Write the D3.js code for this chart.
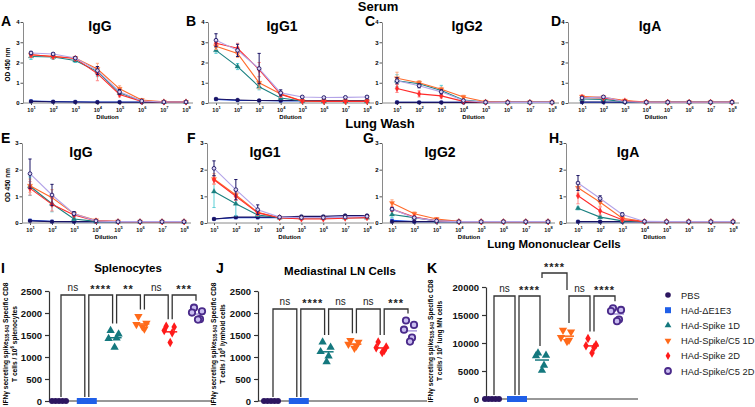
<!DOCTYPE html>
<html><head><meta charset="utf-8">
<script src="https://cdn.jsdelivr.net/npm/d3@7"></script>
<style>body{margin:0;background:#fff} svg{display:block} text{font-family:"Liberation Sans",Arial,sans-serif}</style>
</head><body><svg id="c" width="755" height="407"></svg>
<script>
// ---------- DATA ----------
const groups = ["PBS","HAd-ΔE1E3","HAd-Spike 1D","HAd-Spike/C5 1D","HAd-Spike 2D","HAd-Spike/C5 2D"];
const dilutionExp = [1,2,3,4,5,6,7,8];

// Serum (rows = groups in order above, columns = 10^1 .. 10^8)
const serumIgG = [
 [0.08,0.06,0.05,0.04,0.04,0.04,0.04,0.04],
 [0.10,0.07,0.06,0.05,0.05,0.05,0.05,0.05],
 [2.30,2.27,2.10,1.55,0.50,0.10,0.05,0.05],
 [2.38,2.30,2.22,1.68,0.70,0.15,0.06,0.05],
 [2.38,2.30,2.20,1.45,0.42,0.08,0.05,0.05],
 [2.47,2.42,2.22,1.60,0.55,0.10,0.05,0.05]];
const serumIgG_err = [
 [0.02,0.01,0,0,0,0,0,0],[0.02,0.01,0,0,0,0,0,0],
 [0.15,0.12,0.10,0.25,0.10,0.03,0,0],
 [0.12,0.10,0.08,0.28,0.15,0.05,0,0],
 [0.10,0.10,0.08,0.35,0.12,0.03,0,0],
 [0.08,0.06,0.06,0.20,0.12,0.03,0,0]];
const serumIgG1 = [
 [0.20,0.15,0.12,0.12,0.12,0.12,0.12,0.12],
 [0.18,0.13,0.12,0.10,0.10,0.10,0.10,0.10],
 [2.60,1.80,0.80,0.25,0.10,0.08,0.08,0.08],
 [2.80,2.45,1.00,0.45,0.10,0.08,0.08,0.08],
 [2.95,2.70,1.65,0.42,0.10,0.08,0.08,0.08],
 [3.10,2.60,1.70,0.50,0.30,0.27,0.28,0.30]];
const serumIgG1_err = [
 [0.03,0.02,0,0,0,0,0,0],[0.02,0.02,0,0,0,0,0,0],
 [0.15,0.15,0.15,0.05,0.02,0,0,0],
 [0.15,0.20,0.30,0.10,0.02,0,0,0],
 [0.15,0.25,0.35,0.15,0.02,0,0,0],
 [0.32,0.30,0.75,0.15,0.05,0.03,0.03,0.05]];
const serumIgG2 = [
 [0.03,0.03,0.03,0.03,0.03,0.03,0.03,0.03],
 [0.04,0.03,0.03,0.03,0.03,0.03,0.03,0.03],
 [1.10,0.95,0.62,0.15,0.05,0.03,0.03,0.03],
 [1.22,1.00,0.68,0.30,0.06,0.03,0.03,0.03],
 [0.72,0.45,0.35,0.08,0.04,0.03,0.03,0.03],
 [1.10,0.85,0.55,0.12,0.04,0.03,0.03,0.03]];
const serumIgG2_err = [
 [0,0,0,0,0,0,0,0],[0,0,0,0,0,0,0,0],
 [0.30,0.12,0.25,0.05,0,0,0,0],
 [0.30,0.10,0.10,0.08,0,0,0,0],
 [0.20,0.15,0.10,0.03,0,0,0,0],
 [0.15,0.10,0.10,0.05,0,0,0,0]];
const serumIgA = [
 [0.05,0.05,0.04,0.04,0.04,0.04,0.04,0.04],
 [0.04,0.04,0.04,0.04,0.04,0.04,0.04,0.04],
 [0.20,0.18,0.06,0.04,0.04,0.04,0.04,0.04],
 [0.32,0.28,0.12,0.05,0.04,0.04,0.04,0.04],
 [0.28,0.25,0.10,0.04,0.04,0.04,0.04,0.04],
 [0.25,0.30,0.06,0.04,0.04,0.04,0.04,0.04]];
const serumIgA_err = [
 [0,0,0,0,0,0,0,0],[0,0,0,0,0,0,0,0],
 [0.05,0.04,0.02,0,0,0,0,0],
 [0.06,0.05,0.03,0,0,0,0,0],
 [0.05,0.05,0.03,0,0,0,0,0],
 [0.05,0.05,0.02,0,0,0,0,0]];

// Lung wash
const lungIgG = [
 [0.08,0.05,0.05,0.05,0.05,0.05,0.05,0.05],
 [0.10,0.06,0.05,0.05,0.05,0.05,0.05,0.05],
 [1.38,0.72,0.15,0.06,0.05,0.05,0.05,0.05],
 [1.40,0.95,0.35,0.10,0.06,0.05,0.05,0.05],
 [1.30,0.70,0.30,0.08,0.05,0.05,0.05,0.05],
 [1.85,1.05,0.35,0.08,0.05,0.05,0.05,0.05]];
const lungIgG_err = [
 [0.01,0,0,0,0,0,0,0],[0.02,0,0,0,0,0,0,0],
 [0.35,0.30,0.05,0,0,0,0,0],
 [0.25,0.30,0.08,0,0,0,0,0],
 [0.25,0.25,0.05,0,0,0,0,0],
 [0.55,0.40,0.08,0,0,0,0,0]];
const lungIgG1 = [
 [0.15,0.22,0.22,0.22,0.25,0.25,0.28,0.28],
 [0.15,0.20,0.20,0.20,0.20,0.20,0.22,0.22],
 [1.18,0.72,0.30,0.20,0.18,0.18,0.20,0.20],
 [1.65,1.05,0.40,0.20,0.18,0.18,0.20,0.22],
 [1.62,1.00,0.38,0.20,0.15,0.15,0.18,0.20],
 [2.05,1.25,0.50,0.22,0.20,0.20,0.22,0.25]];
const lungIgG1_err = [
 [0.02,0.02,0.02,0.02,0.02,0.02,0.02,0.02],[0,0,0,0,0,0,0,0],
 [0.60,0.45,0.05,0,0,0,0,0],
 [0.20,0.20,0.10,0,0,0,0,0],
 [0.15,0.15,0.08,0,0,0,0,0],
 [0.28,0.38,0.18,0.02,0,0,0,0]];
const lungIgG2 = [
 [0.05,0.05,0.05,0.05,0.05,0.05,0.05,0.05],
 [0.10,0.05,0.05,0.05,0.05,0.05,0.05,0.05],
 [0.32,0.20,0.08,0.05,0.05,0.05,0.05,0.05],
 [0.75,0.35,0.15,0.06,0.05,0.05,0.05,0.05],
 [0.52,0.22,0.08,0.05,0.05,0.05,0.05,0.05],
 [0.52,0.20,0.08,0.05,0.05,0.05,0.05,0.05]];
const lungIgG2_err = [
 [0,0,0,0,0,0,0,0],[0.02,0,0,0,0,0,0,0],
 [0.12,0.05,0.02,0,0,0,0,0],
 [0.12,0.06,0.05,0,0,0,0,0],
 [0.08,0.04,0.02,0,0,0,0,0],
 [0.06,0.04,0.02,0,0,0,0,0]];
const lungIgA = [
 [0.05,0.05,0.05,0.05,0.05,0.05,0.05,0.05],
 [0.05,0.05,0.05,0.05,0.05,0.05,0.05,0.05],
 [0.55,0.22,0.08,0.05,0.05,0.05,0.05,0.05],
 [1.32,0.78,0.18,0.06,0.05,0.05,0.05,0.05],
 [1.02,0.45,0.12,0.05,0.05,0.05,0.05,0.05],
 [1.50,0.92,0.32,0.06,0.05,0.05,0.05,0.05]];
const lungIgA_err = [
 [0,0,0,0,0,0,0,0],[0,0,0,0,0,0,0,0],
 [0.05,0.05,0.02,0,0,0,0,0],
 [0.20,0.15,0.05,0,0,0,0,0],
 [0.30,0.15,0.05,0,0,0,0,0],
 [0.28,0.10,0.06,0,0,0,0,0]];

// IFN-gamma ELISpot (5 mice per group)
const splenocytes = [
 [0,0,0,0,0],[0,0,0,0,0],
 [1600,1520,1420,1430,1220],
 [1920,1770,1740,1640,1690],
 [1700,1680,1600,1550,1330],
 [2120,2040,2010,1860,1850]];
const mediastinalLN = [
 [0,0,0,0,0],[0,0,0,0,0],
 [1340,1220,1120,1020,890],
 [1380,1340,1290,1250,1200],
 [1340,1230,1210,1150,1100],
 [1830,1730,1620,1440,1350]];
const lungMN = [
 [0,0,0,0,0],[0,0,0,0,0],
 [8200,7800,7700,6000,5100],
 [12300,12000,11000,10500,10300],
 [10800,9700,9500,9200,8200],
 [16200,15900,15700,14200,13900]];
const sigI = ["ns","****","**","ns","***"];
const sigJ = ["ns","****","ns","ns","***"];
const sigK = ["ns","****","****","ns","****"];
const ticksIJ = [0,500,1000,1500,2000,2500];
const ticksK = [0,5000,10000,15000,20000];

// ---------- STYLE ----------
const lineCol = ["#1b1464","#1f4fe0","#1a8080","#ff6a2a","#ff2a2a","#b3a3e8"];
const errCol  = ["#1b1464","#1f4fe0","#5ccfd6","#ffa880","#ff8a8a","#1b1464"];
const mkFill  = ["#1b1464","#1f4fe0","#1a8080","#ff6a2a","#ff2a2a","#ddd5f5"];
const mkStroke= ["#1b1464","#1f4fe0","#1a8080","#ff6a2a","#ff2a2a","#1b1464"];
const scCol   = ["#2c1660","#1f5fe8","#14787e","#ff6a1a","#ff1a1a","#4a2a8a"];
const scMean  = ["#2c1660","#1f5fe8","#14787e","#ff6a1a","#ff1a1a","#a898dc"];

const svg = d3.select("#c");
const FB = "'Liberation Sans',Arial,sans-serif";
const FT = "Lato,'Open Sans',sans-serif";

function symbolPath(i, size){
  const t = [d3.symbolCircle,d3.symbolSquare,d3.symbolTriangle,d3.symbolTriangle,d3.symbolDiamond,d3.symbolCircle][i];
  return d3.symbol().type(t).size(size)();
}
function drawSym(g, i, cx, cy, size, fill, stroke, sw){
  g.append("path").attr("d", symbolPath(i,size))
   .attr("transform", `translate(${cx},${cy})` + (i===3?" rotate(180)":""))
   .attr("fill", fill).attr("stroke", stroke).attr("stroke-width", sw);
}

// ---------- LINE PANELS ----------
const linePanels = [
 {L:"A",t:"IgG", d:serumIgG, e:serumIgG_err, ax:23, x0:31, x1:186, yT:22, yB:103, ym:4, lx:1, ly:26, tx:100, ty:31, od:true},
 {L:"B",t:"IgG1",d:serumIgG1,e:serumIgG1_err,ax:208,x0:216,x1:367, yT:22, yB:103, ym:4, lx:186,ly:26, tx:282, ty:31},
 {L:"C",t:"IgG2",d:serumIgG2,e:serumIgG2_err,ax:382,x0:397,x1:552, yT:22, yB:103, ym:4, lx:365,ly:26, tx:467, ty:31},
 {L:"D",t:"IgA", d:serumIgA, e:serumIgA_err, ax:568,x0:582,x1:732, yT:22, yB:103, ym:4, lx:551,ly:26, tx:650, ty:31},
 {L:"E",t:"IgG", d:lungIgG,  e:lungIgG_err,  ax:22, x0:30, x1:184, yT:143,yB:223, ym:3, lx:1, ly:143, tx:81, ty:157, od:true},
 {L:"F",t:"IgG1",d:lungIgG1, e:lungIgG1_err, ax:207,x0:214,x1:367, yT:143,yB:223, ym:3, lx:187,ly:143, tx:265, ty:157},
 {L:"G",t:"IgG2",d:lungIgG2, e:lungIgG2_err, ax:382,x0:392,x1:548, yT:143,yB:223, ym:3, lx:363,ly:143, tx:440, ty:157},
 {L:"H",t:"IgA", d:lungIgA,  e:lungIgA_err,  ax:566,x0:578,x1:733, yT:143,yB:223, ym:3, lx:549,ly:143, tx:628, ty:157},
];

linePanels.forEach(p=>{
  const g = svg.append("g");
  const x = d3.scaleLog().domain([10,1e8]).range([p.x0,p.x1]);
  const y = d3.scaleLinear().domain([0,p.ym]).range([p.yB,p.yT]);
  // y axis
  const ya = g.append("g").attr("transform",`translate(${p.ax},0)`)
    .call(d3.axisLeft(y).ticks(p.ym).tickFormat(d3.format("d")).tickSize(2.5).tickSizeOuter(0));
  ya.select(".domain").attr("stroke","#8a8a8a");
  ya.selectAll(".tick line").attr("stroke","#555");
  ya.selectAll(".tick text").attr("font-size",6).attr("font-weight","bold").attr("font-family",FB).attr("x",-3.5);
  // x axis
  const xa = g.append("g").attr("transform",`translate(0,${p.yB})`)
    .call(d3.axisBottom(x).tickValues(dilutionExp.map(e=>Math.pow(10,e))).tickFormat("").tickSize(2).tickSizeOuter(0));
  xa.select(".domain").remove();
  xa.selectAll(".tick line").attr("stroke","#555");
  g.append("line").attr("x1",p.ax).attr("x2",p.x1+7).attr("y1",p.yB).attr("y2",p.yB).attr("stroke","#8a8a8a");
  xa.selectAll(".tick").each(function(d,i){
    const t = d3.select(this).append("text").attr("y",8.5).attr("text-anchor","middle")
      .attr("font-size",5.5).attr("font-weight","bold").attr("fill","#111").attr("font-family",FB);
    t.append("tspan").text("10");
    t.append("tspan").attr("dy",-2.5).attr("font-size",4).text(dilutionExp[i]);
  });
  g.append("text").attr("x",(p.x0+p.x1)/2-1).attr("y",p.yB+16).attr("text-anchor","middle")
    .attr("font-size",6).attr("font-weight","bold").attr("font-family",FB).text("Dilution");
  if(p.od){
    g.append("text").attr("transform",`translate(10,${(p.yT+p.yB)/2+2}) rotate(-90)`).attr("text-anchor","middle")
     .attr("font-size",6.5).attr("font-weight","bold").attr("font-family",FB).text("OD 450 nm");
  }
  // letters / titles
  g.append("text").attr("x",p.lx).attr("y",p.ly).attr("font-size",14).attr("font-weight","bold").attr("font-family",FB).text(p.L);
  g.append("text").attr("x",p.tx).attr("y",p.ty).attr("text-anchor","middle").attr("font-size",14).attr("font-weight","bold").attr("font-family",FT).text(p.t);
  // series
  const line = d3.line().x((v,i)=>x(Math.pow(10,dilutionExp[i]))).y(v=>y(v));
  [1,0,2,3,4,5].forEach(s=>{
    const vals = p.d[s], errs = p.e[s];
    g.append("path").attr("d",line(vals)).attr("fill","none").attr("stroke",lineCol[s]).attr("stroke-width",1.1);
    vals.forEach((v,i)=>{
      const er = errs[i]; if(!er) return;
      const cx = x(Math.pow(10,dilutionExp[i]));
      const y1 = y(v+er), y2 = y(Math.max(0,v-er));
      g.append("path").attr("d",`M${cx},${y1}V${y2}M${cx-1.6},${y1}H${cx+1.6}M${cx-1.6},${y2}H${cx+1.6}`)
        .attr("stroke",errCol[s]).attr("stroke-width",1).attr("fill","none");
    });
    vals.forEach((v,i)=>{
      const cx = x(Math.pow(10,dilutionExp[i]));
      drawSym(g, s, cx, y(v), s===1?9:(s===5?11:12), mkFill[s], mkStroke[s], s===5?0.9:0.3);
    });
  });
});
svg.append("text").attr("x",378).attr("y",11).attr("text-anchor","middle").attr("font-size",13).attr("font-weight","bold").attr("font-family",FT).text("Serum");
svg.append("text").attr("x",380).attr("y",128).attr("text-anchor","middle").attr("font-size",13).attr("font-weight","bold").attr("font-family",FT).text("Lung Wash");

// ---------- SCATTER PANELS ----------
const scPanels = [
 {L:"I",t:"Splenocytes",d:splenocytes,sig:sigI,ticks:ticksIJ,ym:2500,ax:49,gx0:59,gx1:198,xe:212,yT:291,yB:401,
  lx:1,ly:273,tx:128,ty:272,top:295,yl:[5,14],cells:" splenocytes",exp:"6"},
 {L:"J",t:"Mediastinal LN Cells",d:mediastinalLN,sig:sigJ,ticks:ticksIJ,ym:2500,ax:258,gx0:271,gx1:410,xe:427,yT:291,yB:401,
  lx:216,ly:273,tx:340,ty:275,top:309,yl:[213,222],cells:" lymhoid cells",exp:"6"},
 {L:"K",t:"Lung Mononuclear Cells",d:lungMN,sig:sigK,ticks:ticksK,ym:20000,ax:486,gx0:492,gx1:617,xe:638,yT:287,yB:399,
  lx:427,ly:273,tx:554,ty:248,top:296,top2:273,lvl:[0,0,1,0,0],yl:[430,439],cells:" lung MN cells",exp:"5"},
];
const jit = [-4,4,-6,2,0];
const spread = [-7,-3.5,0,3.5,7];

scPanels.forEach(p=>{
  const g = svg.append("g");
  const x = d3.scalePoint().domain(groups).range([p.gx0,p.gx1]);
  const y = d3.scaleLinear().domain([0,p.ym]).range([p.yB,p.yT]);
  const ya = g.append("g").attr("transform",`translate(${p.ax},0)`)
    .call(d3.axisLeft(y).tickValues(p.ticks).tickFormat(d3.format("d")).tickSize(4).tickSizeOuter(0));
  ya.select(".domain").attr("stroke","#333").attr("stroke-width",1.2);
  ya.selectAll(".tick line").attr("stroke","#333").attr("stroke-width",1.2);
  ya.selectAll(".tick text").attr("font-size",9.5).attr("font-weight","bold").attr("font-family",FB).attr("fill","#111");
  g.append("line").attr("x1",p.ax).attr("x2",p.xe).attr("y1",p.yB).attr("y2",p.yB).attr("stroke","#333").attr("stroke-width",1.2);
  // y title
  const t1 = g.append("text").attr("transform",`translate(${p.yl[0]+2.5},${(p.yT+p.yB)/2-2}) rotate(-90)`).attr("text-anchor","middle")
    .attr("font-size",6.6).attr("font-weight","bold").attr("font-family",FB);
  t1.append("tspan").text("IFNγ secreting spike");
  t1.append("tspan").attr("font-size",4.5).attr("dy",1.5).text("535-543");
  t1.append("tspan").attr("dy",-1.5).text(" Specific CD8");
  const t2 = g.append("text").attr("transform",`translate(${p.yl[1]+2.5},${(p.yT+p.yB)/2-2}) rotate(-90)`).attr("text-anchor","middle")
    .attr("font-size",6.6).attr("font-weight","bold").attr("font-family",FB);
  t2.append("tspan").text("T cells / 10");
  t2.append("tspan").attr("font-size",4.5).attr("dy",-2.5).text(p.exp);
  t2.append("tspan").attr("dy",2.5).text(p.cells);
  g.append("text").attr("x",p.lx).attr("y",p.ly).attr("font-size",14).attr("font-weight","bold").attr("font-family",FB).text(p.L);
  g.append("text").attr("x",p.tx).attr("y",p.ty).attr("text-anchor","middle").attr("font-size",11.5).attr("font-weight","bold").attr("font-family",FB).text(p.t);
  // brackets
  p.sig.forEach((lab,i)=>{
    const a=i,b=i+1;
    const lv = p.lvl ? p.lvl[i] : 0;
    const top = lv ? p.top2 : p.top;
    const xa = x(groups[a]) + (lv?0:2), xb = x(groups[b]) - (lv?0:2);
    const ma = d3.max(p.d[a]), mb = d3.max(p.d[b]);
    let ya1 = ma===0 ? y(0)-4 : y(ma)-7;
    let yb1 = mb===0 ? y(0)-4 : y(mb)-7;
    if(lv){ ya1 = top+5; yb1 = p.top-6; }
    g.append("path").attr("d",`M${xa},${ya1}V${top}H${xb}V${yb1}`).attr("fill","none").attr("stroke","#333").attr("stroke-width",1.3);
    g.append("text").attr("x",(xa+xb)/2).attr("y",top-(lab==="ns"?4:2.5)).attr("text-anchor","middle")
      .attr("font-size",lab==="ns"?10:11).attr("font-weight",lab==="ns"?"normal":"bold").attr("letter-spacing",lab==="ns"?0:1)
      .attr("font-family",FB).attr("fill","#222").text(lab);
  });
  // points
  p.d.forEach((vals,s)=>{
    const cx = x(groups[s]);
    const allZero = d3.max(vals)===0;
    if(!allZero){
      const m = d3.mean(vals);
      g.append("line").attr("x1",cx-7).attr("x2",cx+7).attr("y1",y(m)).attr("y2",y(m)).attr("stroke",scMean[s]).attr("stroke-width",1.5);
    }
    vals.forEach((v,k)=>{
      const px = cx + (allZero?spread[k]:jit[k]);
      if(s===5){
        g.append("circle").attr("cx",px).attr("cy",y(v)).attr("r",3.2).attr("fill","#c9bdf0").attr("stroke",scCol[5]).attr("stroke-width",1.8);
      } else if(s===0){
        g.append("circle").attr("cx",px).attr("cy",y(v)).attr("r",3).attr("fill",scCol[0]);
      } else if(s===1){
        g.append("rect").attr("x",px-3).attr("y",y(v)-3).attr("width",6).attr("height",6).attr("fill",scCol[1]);
      } else {
        drawSym(g, s, px, y(v), s===4?26:30, scCol[s], "none", 0);
      }
    });
  });
});

// ---------- LEGEND ----------
const lg = svg.append("g");
groups.forEach((name,s)=>{
  const yy = 295 + s*15.2;
  if(s===5) lg.append("circle").attr("cx",668).attr("cy",yy).attr("r",3).attr("fill","#c9bdf0").attr("stroke",scCol[5]).attr("stroke-width",1.8);
  else if(s===0) lg.append("circle").attr("cx",668).attr("cy",yy).attr("r",2.8).attr("fill",scCol[0]);
  else if(s===1) lg.append("rect").attr("x",665).attr("y",yy-3).attr("width",6).attr("height",6).attr("fill",scCol[1]);
  else drawSym(lg, s, 668, yy, 20, scCol[s], "none", 0);
  lg.append("text").attr("x",681).attr("y",yy+3.5).attr("font-size",9.3).attr("font-family",FB).attr("fill","#222").text(name);
});
</script></body></html>
